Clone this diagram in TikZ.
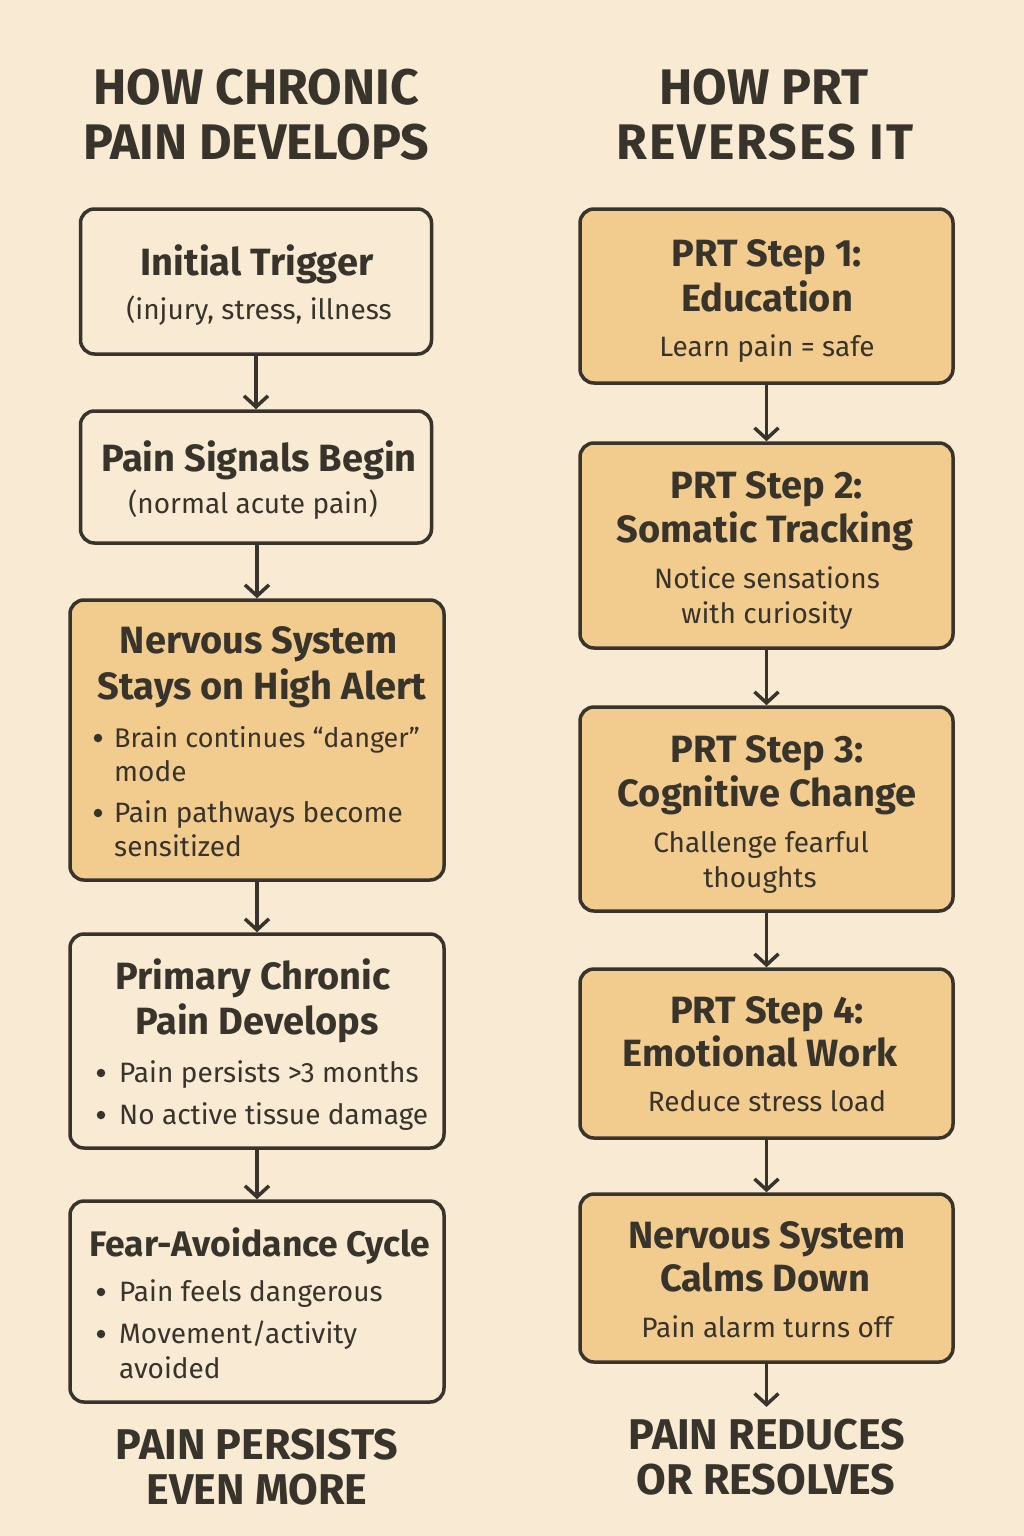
\documentclass[tikz,border=0pt]{standalone}
\usepackage{fontspec}
\setmainfont{Fira Sans}
\usetikzlibrary{arrows.meta}
\definecolor{bg}{HTML}{F8EAD3}
\definecolor{boxo}{HTML}{F2CB8E}
\definecolor{ink}{HTML}{38342B}
\tikzset{
 box/.style={draw=ink, line width=3.5pt, rounded corners=14pt, inner sep=0pt},
 plain/.style={box, fill=bg},
 warm/.style={box, fill=boxo},
 ttl/.style={font=\fontsize{38}{44}\selectfont\bfseries, text=ink, anchor=mid, inner sep=0pt, yshift=-11pt},
 txt/.style={font=\fontsize{28}{34}\selectfont, text=ink, anchor=mid, inner sep=0pt, yshift=-8pt},
 txtl/.style={txt, anchor=mid west},
 dot/.style={circle, fill=ink, inner sep=0pt, minimum size=8.5pt},
 head/.style={font=\fontsize{50}{55}\selectfont\bfseries, text=ink, anchor=mid, inner sep=0pt, yshift=-14pt},
 foot/.style={font=\fontsize{43}{48}\selectfont\bfseries, text=ink, anchor=mid, inner sep=0pt, yshift=-12pt},
 arr/.style={draw=ink, line width=3.5pt, -{Straight Barb[length=11pt,width=24pt]}}
}
\begin{document}
\begin{tikzpicture}[x=1pt,y=-1pt]
\fill[bg] (0,0) rectangle (1024,1536);
\useasboundingbox (0,0) rectangle (1024,1536);

% headings
\node[head] (hl1) at (256,88) {HOW CHRONIC};
\node[head] (hl2) at (256,143) {PAIN DEVELOPS};
\node[head] (hr1) at (764,88) {HOW PRT};
\node[head, font=\fontsize{50}{55}\selectfont\bfseries\addfontfeature{LetterSpace=4}] (hr2) at (765,143) {REVERSES IT};

% left column
\node[plain, minimum width=351pt, minimum height=145pt] (b1) at (256,281.5) {};
\node[ttl] (b1t) at (257,262) {Initial Trigger};
\node[txt] (b1s) at (259,309) {(injury, stress, illness};

\node[plain, minimum width=351pt, minimum height=132pt] (b2) at (256,477) {};
\node[ttl] (b2t) at (259,458) {Pain Signals Begin};
\node[txt] (b2s) at (253,503) {(normal acute pain)};

\node[warm, minimum width=374pt, minimum height=280pt] (b3) at (257,740) {};
\node[ttl] (b3t1) at (259,640) {Nervous System};
\node[ttl] (b3t2) at (262,686) {Stays on High Alert};
\node[dot] (b3d1) at (98,738) {};
\node[txtl, font=\fontsize{27}{34}\selectfont] (b3l1) at (114,737) {Brain continues “danger”};
\node[txtl] (b3l2) at (114,771) {mode};
\node[dot] (b3d2) at (98,813) {};
\node[txtl] (b3l3) at (114,812) {Pain pathways become};
\node[txtl] (b3l4) at (114,846) {sensitized};

\node[plain, minimum width=374pt, minimum height=214pt] (b4) at (257,1041) {};
\node[ttl] (b4t1) at (253,976) {Primary Chronic};
\node[ttl] (b4t2) at (257,1021) {Pain Develops};
\node[dot] (b4d1) at (101,1073) {};
\node[txtl] (b4l1) at (119,1072) {Pain persists >3 months};
\node[dot] (b4d2) at (101,1115) {};
\node[txtl] (b4l2) at (119,1114) {No active tissue damage};

\node[plain, minimum width=374pt, minimum height=201pt] (b5) at (257,1301.5) {};
\node[ttl, font=\fontsize{35.5}{42}\selectfont\bfseries] (b5t) at (260,1243) {Fear-Avoidance Cycle};
\node[dot] (b5d1) at (101,1292) {};
\node[txtl] (b5l1) at (119,1291) {Pain feels dangerous};
\node[dot] (b5d2) at (101,1334) {};
\node[txtl] (b5l2) at (119,1333) {Movement/activity};
\node[txtl] (b5l3) at (119,1368) {avoided};

\node[foot] (fl1) at (257,1445) {PAIN PERSISTS};
\node[foot] (fl2) at (257,1490) {EVEN MORE};

% right column
\node[warm, minimum width=373pt, minimum height=174pt] (r1) at (766.5,296) {};
\node[ttl] (r1t1) at (767,253) {PRT Step 1:};
\node[ttl] (r1t2) at (767,298) {Education};
\node[txt] (r1s) at (767,346) {Learn pain = safe};

\node[warm, minimum width=373pt, minimum height=205pt] (r2) at (766.5,545.5) {};
\node[ttl] (r2t1) at (767,485) {PRT Step 2:};
\node[ttl] (r2t2) at (765,529) {Somatic Tracking};
\node[txt] (r2s1) at (767,578) {Notice sensations};
\node[txt] (r2s2) at (767,613) {with curiosity};

\node[warm, minimum width=373pt, minimum height=204pt] (r3) at (766.5,809) {};
\node[ttl] (r3t1) at (767,749) {PRT Step 3:};
\node[ttl] (r3t2) at (767,793) {Cognitive Change};
\node[txt] (r3s1) at (761,842) {Challenge fearful};
\node[txt] (r3s2) at (760,877) {thoughts};

\node[warm, minimum width=373pt, minimum height=169pt] (r4) at (766.5,1053.5) {};
\node[ttl] (r4t1) at (767,1010) {PRT Step 4:};
\node[ttl] (r4t2) at (760,1053) {Emotional Work};
\node[txt] (r4s) at (767,1101) {Reduce stress load};

\node[warm, minimum width=373pt, minimum height=168pt] (r5) at (766.5,1278) {};
\node[ttl] (r5t1) at (767,1235) {Nervous System};
\node[ttl] (r5t2) at (765,1278) {Calms Down};
\node[txt] (r5s) at (767,1327) {Pain alarm turns off};

\node[foot] (fr1) at (767,1435) {PAIN REDUCES};
\node[foot] (fr2) at (766,1480) {OR RESOLVES};

% connectors
\draw[arr] (b1.south) -- (b2.north);
\draw[arr] (b2.south -| b3.north) -- (b3.north);
\draw[arr] (b3.south) -- (b4.north);
\draw[arr] (b4.south) -- (b5.north);
\draw[arr] (r1.south) -- (r2.north);
\draw[arr] (r2.south) -- (r3.north);
\draw[arr] (r3.south) -- (r4.north);
\draw[arr] (r4.south) -- (r5.north);
\draw[arr, shorten >=12pt] (r5.south) -- (r5.south |- fr1.north);
\end{tikzpicture}
\end{document}
